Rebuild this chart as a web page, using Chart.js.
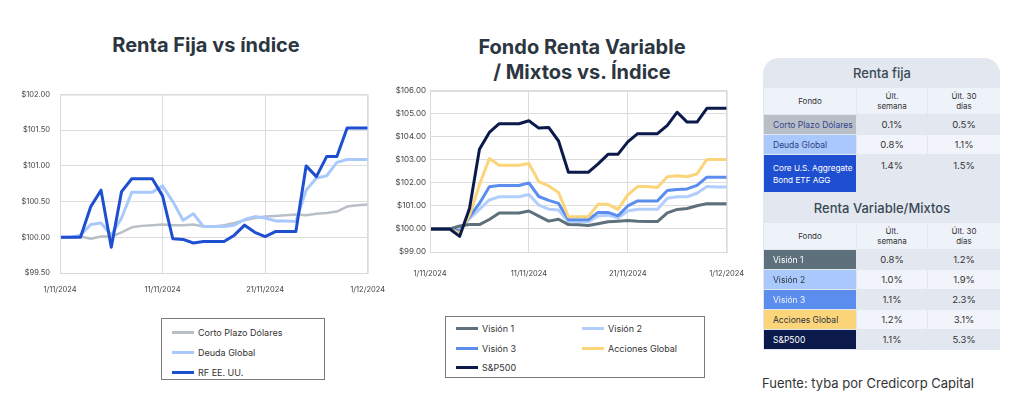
<!DOCTYPE html>
<html>
<head>
<meta charset="utf-8">
<script src="https://cdn.jsdelivr.net/npm/chart.js@4"></script>
<style>
  body { margin: 0; width: 1024px; height: 410px; background: #fff; font-family: Inter, "Noto Sans", sans-serif; position: relative; overflow: hidden; }
  .title { position: absolute; font-weight: 700; font-size: 20px; color: #2b3640; text-align: center; line-height: 25px; }
  .wrap { position: absolute; }
  .legend { position: absolute; border: 1px solid #7a7a7a; box-sizing: border-box; font-size: 9px; color: #333; }
  .legend .item { position: absolute; display: flex; align-items: center; height: 12px; }
  .legend .sw { width: 22px; height: 3px; margin-right: 4px; }
  .card { position: absolute; left: 763px; top: 58px; width: 237px; }
  .card table { border-collapse: collapse; width: 237px; table-layout: fixed; }
  .card td { border: 1px solid #e2e6ee; padding: 0; font-size: 9.5px; color: #333; text-align: center; }
  .card .head td { background: #e3e7f0; font-size: 13px; font-weight: 500; color: #3a4954; height: 29px; border: none; }
  .card .cols td { background: #eef2f9; font-size: 8px; color: #333; height: 26px; line-height: 10px; }
  .card td.name { text-align: left; padding-left: 9px; font-size: 8.5px; white-space: nowrap; overflow: hidden; }
  .card tr.alt td.v { background: #f1f4fa; }
  .fuente { position: absolute; left: 762px; top: 375px; font-size: 13px; color: #333; }
</style>
</head>
<body>
<div class="title" style="left:56px;top:33px;width:300px;">Renta Fija vs índice</div>
<div class="title" style="left:432px;top:35px;width:300px;">Fondo Renta Variable<br>/ Mixtos vs. Índice</div>

<div class="wrap" style="left:0px;top:80px;width:397px;height:225px;"><canvas id="fija"></canvas></div>
<div class="wrap" style="left:378px;top:82px;width:383px;height:206px;"><canvas id="variable"></canvas></div>

<div class="legend" id="legFija" style="left:161px;top:318px;width:164px;height:62px;"></div>
<div class="legend" id="legVar" style="left:445px;top:316px;width:260px;height:62px;"></div>

<div class="card" id="card"></div>
<div class="fuente">Fuente: tyba por Credicorp Capital</div>

<script>
// fechas (eje x)
const dates = ['1/11/2024', '2/11/2024', '3/11/2024', '4/11/2024', '5/11/2024', '6/11/2024', '7/11/2024',
  '8/11/2024', '9/11/2024', '10/11/2024', '11/11/2024', '12/11/2024', '13/11/2024', '14/11/2024',
  '15/11/2024', '16/11/2024', '17/11/2024', '18/11/2024', '19/11/2024', '20/11/2024', '21/11/2024',
  '22/11/2024', '23/11/2024', '24/11/2024', '25/11/2024', '26/11/2024', '27/11/2024', '28/11/2024',
  '29/11/2024', '30/11/2024', '1/12/2024'];

// Renta fija
const cortoPlazo = [100.0, 100.0, 100.01, 99.98, 100.01, 100.01, 100.07, 100.14, 100.16, 100.17, 100.18,
  100.17, 100.17, 100.18, 100.15, 100.15, 100.17, 100.2, 100.24, 100.27, 100.29, 100.3, 100.31, 100.32,
  100.31, 100.33, 100.34, 100.36, 100.43, 100.45, 100.46];
const deudaGlobal = [100.0, 100.0, 100.03, 100.18, 100.2, 100.03, 100.27, 100.63, 100.63, 100.63, 100.72,
  100.5, 100.24, 100.33, 100.15, 100.15, 100.15, 100.17, 100.25, 100.29, 100.27, 100.23, 100.23, 100.22,
  100.66, 100.83, 100.86, 101.05, 101.09, 101.09, 101.09];
const rfUSA = [100.0, 100.0, 100.0, 100.43, 100.66, 99.86, 100.64, 100.82, 100.82, 100.82, 100.58,
  99.98, 99.97, 99.92, 99.94, 99.94, 99.94, 100.03, 100.17, 100.07, 100.01, 100.08, 100.08, 100.08,
  101.0, 100.85, 101.13, 101.13, 101.53, 101.53, 101.53];

// Renta variable / mixtos
const vision1 = [100.0, 100.0, 100.0, 100.13, 100.19, 100.19, 100.41, 100.69, 100.69, 100.69, 100.78,
  100.56, 100.34, 100.42, 100.19, 100.18, 100.15, 100.23, 100.31, 100.34, 100.37, 100.34, 100.32, 100.32,
  100.7, 100.85, 100.89, 101.01, 101.1, 101.1, 101.1];
const vision2 = [100.0, 100.0, 100.0, 99.95, 100.45, 100.85, 101.26, 101.4, 101.4, 101.4, 101.5,
  101.04, 100.86, 100.82, 100.31, 100.31, 100.31, 100.56, 100.6, 100.48, 100.78, 100.86, 100.86, 100.86,
  101.33, 101.4, 101.4, 101.55, 101.84, 101.82, 101.82];
const vision3 = [100.0, 100.0, 100.0, 99.91, 100.53, 101.11, 101.83, 101.89, 101.89, 101.89, 102.0,
  101.41, 101.24, 101.11, 100.4, 100.4, 100.4, 100.72, 100.72, 100.57, 101.0, 101.22, 101.22, 101.22,
  101.67, 101.71, 101.74, 101.89, 102.25, 102.25, 102.25];
const accionesGlobal = [100.0, 100.0, 100.0, 99.8, 100.6, 101.92, 103.06, 102.77, 102.77, 102.77, 102.84,
  102.06, 101.87, 101.58, 100.53, 100.53, 100.53, 101.07, 101.07, 100.85, 101.48, 101.84, 101.84, 101.8,
  102.27, 102.31, 102.27, 102.39, 103.02, 103.02, 103.02];
const sp500 = [100.0, 100.0, 100.0, 99.68, 100.9, 103.46, 104.19, 104.57, 104.57, 104.57, 104.7,
  104.38, 104.41, 103.82, 102.46, 102.46, 102.46, 102.83, 103.24, 103.24, 103.78, 104.14, 104.14, 104.14,
  104.5, 105.07, 104.64, 104.64, 105.24, 105.24, 105.24];

// tabla
const fijaFondos = ['Corto Plazo Dólares', 'Deuda Global', 'Core U.S. Aggregate<br>Bond ETF AGG'];
const fijaSemana = ['0.1%', '0.8%', '1.4%'];
const fija30 = ['0.5%', '1.1%', '1.5%'];
const varFondos = ['Visión 1', 'Visión 2', 'Visión 3', 'Acciones Global', 'S&amp;P500'];
const varSemana = ['0.8%', '1.0%', '1.1%', '1.2%', '1.1%'];
const var30 = ['1.2%', '1.9%', '2.3%', '3.1%', '5.3%'];

const colors = {
  corto: '#b9bfc7', deuda: '#a9c8fb', rf: '#1f4fd1',
  v1: '#5d707c', v2: '#b2cefc', v3: '#5b8def', acc: '#fcd47a', sp: '#0b1a4a'
};

const boxPlugin = {
  id: 'box',
  afterDraw(chart) {
    const a = chart.chartArea, ctx = chart.ctx;
    ctx.save();
    ctx.strokeStyle = '#d9d9d9';
    ctx.lineWidth = 1;
    ctx.strokeRect(a.left + 0.5, a.top + 0.5, a.right - a.left, a.bottom - a.top);
    ctx.restore();
  }
};

function makeChart(id, datasets, yMin, yMax, step, yWidth, yPad, xPad, yFont, xHeight) {
  return new Chart(document.getElementById(id), {
    type: 'line',
    data: { labels: dates, datasets: datasets },
    options: {
      responsive: true,
      maintainAspectRatio: false,
      animation: false,
      layout: { padding: { top: 8, right: 27, left: 0, bottom: 0 } },
      elements: { point: { radius: 0 }, line: { tension: 0, borderJoinStyle: 'round' } },
      plugins: { legend: { display: false }, tooltip: { enabled: false } },
      scales: {
        x: {
          afterFit: s => { s.height = xHeight; },
          grid: {
            drawTicks: false,
            color: c => (c.index % 10 === 0 ? '#dcdcdc' : 'transparent')
          },
          border: { display: false },
          ticks: {
            autoSkip: false, maxRotation: 0, padding: xPad,
            font: { family: 'Inter', size: 7.5 }, color: '#444',
            callback: function (v, i) { return i % 10 === 0 ? dates[i] : ''; }
          }
        },
        y: {
          min: yMin, max: yMax,
          afterFit: s => { s.width = yWidth; },
          grid: { drawTicks: false, color: '#dcdcdc' },
          border: { display: false },
          ticks: {
            stepSize: step, padding: yPad,
            font: { family: 'Inter', size: yFont }, color: '#444',
            callback: v => '$' + v.toFixed(2)
          }
        }
      }
    },
    plugins: [boxPlugin]
  });
}

const fijaSets = [
  { label: 'Corto Plazo Dólares', data: cortoPlazo, borderColor: colors.corto, borderWidth: 2.5, order: 2 },
  { label: 'Deuda Global', data: deudaGlobal, borderColor: colors.deuda, borderWidth: 3, order: 1 },
  { label: 'RF EE. UU.', data: rfUSA, borderColor: colors.rf, borderWidth: 3, order: 0 }
];
const varSets = [
  { label: 'Visión 1', data: vision1, borderColor: colors.v1, borderWidth: 3, order: 1 },
  { label: 'Visión 2', data: vision2, borderColor: colors.v2, borderWidth: 3, order: 4 },
  { label: 'Visión 3', data: vision3, borderColor: colors.v3, borderWidth: 3, order: 3 },
  { label: 'Acciones Global', data: accionesGlobal, borderColor: colors.acc, borderWidth: 3, order: 2 },
  { label: 'S&P500', data: sp500, borderColor: colors.sp, borderWidth: 3, order: 0 }
];

makeChart('fija', fijaSets, 99.5, 102, 0.5, 60, 10, 12, 7.5, 32);
makeChart('variable', varSets, 99, 106, 1, 52, 4, 17, 8, 36);

// leyendas en html
function legend(elId, sets, positions) {
  const el = document.getElementById(elId);
  sets.forEach((ds, i) => {
    const it = document.createElement('div');
    it.className = 'item';
    it.style.left = positions[i][0] + 'px';
    it.style.top = positions[i][1] + 'px';
    it.innerHTML = '<span class="sw" style="background:' + ds.borderColor + '"></span>' + ds.label;
    el.appendChild(it);
  });
}
legend('legFija', fijaSets, [[10, 7], [10, 27], [10, 47]]);
legend('legVar', varSets, [[10, 5], [136, 5], [10, 25], [136, 25], [10, 44]]);

// tabla
const nameStyle = {
  'Corto Plazo Dólares': [colors.corto, '#33438f'],
  'Deuda Global': [colors.deuda, '#2d3f8a'],
  'Core U.S. Aggregate<br>Bond ETF AGG': ['#1f4fd1', '#fff'],
  'Visión 1': [colors.v1, '#fff'],
  'Visión 2': [colors.deuda, '#2b3440'],
  'Visión 3': [colors.v3, '#f2f5ff'],
  'Acciones Global': [colors.acc, '#2b3440'],
  'S&amp;P500': [colors.sp, '#fff']
};
function section(title, names, week, month) {
  let h = '<tr class="head"><td colspan="3">' + title + '</td></tr>';
  h += '<tr class="cols"><td>Fondo</td><td>Últ.<br>semana</td><td>Últ. 30<br>días</td></tr>';
  names.forEach((n, i) => {
    const tall = n.indexOf('<br>') > 0;
    const st = nameStyle[n];
    const hgt = tall ? 37 : 19;
    const va = tall ? 'vertical-align:top;padding-top:5px;' : '';
    h += '<tr class="' + (i % 2 === 1 ? 'alt' : '') + '">' +
      '<td class="name" style="height:' + hgt + 'px;background:' + st[0] + ';color:' + st[1] + ';' +
      (tall ? 'font-size:8.2px;line-height:12px;' : '') + '">' + n + '</td>' +
      '<td class="v" style="' + va + '">' + week[i] + '</td>' +
      '<td class="v" style="' + va + '">' + month[i] + '</td></tr>';
  });
  return h;
}
document.getElementById('card').innerHTML =
  '<div style="background:#e3e7f0;border-radius:16px 16px 0 0;overflow:hidden;">' +
  '<table><colgroup><col style="width:93px"><col style="width:71px"><col style="width:73px"></colgroup>' +
  section('Renta fija', fijaFondos, fijaSemana, fija30) +
  section('Renta Variable/Mixtos', varFondos, varSemana, var30) +
  '</table></div>';
</script>
</body>
</html>
